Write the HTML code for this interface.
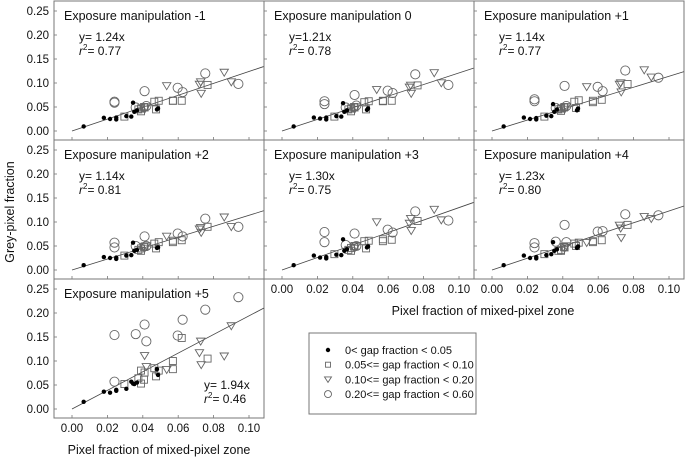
<!DOCTYPE html>
<html><head><meta charset="utf-8"><style>
html,body{margin:0;padding:0;background:#fff;}
svg{display:block;font-family:"Liberation Sans",Arial,sans-serif;}
</style></head><body>
<svg id="c" width="685" height="458" viewBox="0 0 685 458"></svg>
<script>
const xTicks=[0,0.02,0.04,0.06,0.08,0.10];
const xTickLabels=["0.00","0.02","0.04","0.06","0.08","0.10"];
const yTicks=[0,0.05,0.10,0.15,0.20,0.25];
const yTickLabels=["0.00","0.05","0.10","0.15","0.20","0.25"];
const panelTitles=["Exposure manipulation -1","Exposure manipulation 0","Exposure manipulation +1","Exposure manipulation +2","Exposure manipulation +3","Exposure manipulation +4","Exposure manipulation +5"];
const slopes=[1.24,1.21,1.14,1.14,1.30,1.23,1.94];
const slopeLabels=["y= 1.24x","y=1.21x","y= 1.14x","y= 1.14x","y= 1.30x","y= 1.23x","y= 1.94x"];
const r2Labels=["0.77","0.78","0.77","0.81","0.75","0.80","0.46"];
const dotX=[0.0066,0.018,0.0215,0.025,0.025,0.0307,0.0335,0.0345,0.0352,0.0367,0.048,0.0486];
const sqX=[0.0296,0.0375,0.039,0.039,0.0407,0.041,0.0465,0.0475,0.049,0.057,0.057,0.062,0.0766];
const triX=[0.041,0.042,0.0535,0.0727,0.072,0.073,0.086,0.090];
const circX=[0.024,0.024,0.036,0.041,0.042,0.0597,0.0625,0.0753,0.094];
const dotY=[
[0.0096,0.0275,0.025,0.028,0.024,0.031,0.030,0.059,0.040,0.043,0.045,0.047],
[0.0096,0.028,0.026,0.028,0.024,0.031,0.030,0.058,0.040,0.043,0.044,0.047],
[0.0096,0.028,0.025,0.027,0.024,0.032,0.031,0.056,0.040,0.045,0.043,0.047],
[0.010,0.027,0.025,0.026,0.023,0.030,0.031,0.057,0.040,0.042,0.046,0.047],
[0.010,0.030,0.026,0.027,0.024,0.032,0.031,0.064,0.040,0.043,0.047,0.049],
[0.010,0.030,0.025,0.027,0.024,0.031,0.033,0.058,0.040,0.043,0.046,0.049],
[0.015,0.036,0.034,0.040,0.038,0.042,0.057,0.053,0.052,0.055,0.083,0.071]];
const sqY=[
[0.030,0.045,0.041,0.047,0.050,0.049,0.061,0.045,0.063,0.063,0.063,0.063,0.096],
[0.030,0.045,0.041,0.047,0.050,0.049,0.060,0.045,0.062,0.063,0.062,0.063,0.095],
[0.030,0.045,0.042,0.047,0.049,0.050,0.061,0.048,0.064,0.060,0.063,0.065,0.098],
[0.030,0.042,0.040,0.045,0.048,0.049,0.055,0.045,0.058,0.058,0.061,0.062,0.090],
[0.033,0.042,0.040,0.046,0.049,0.050,0.060,0.045,0.061,0.060,0.064,0.063,0.102],
[0.033,0.040,0.040,0.042,0.048,0.047,0.055,0.050,0.057,0.058,0.060,0.062,0.094],
[0.052,0.064,0.080,0.053,0.061,0.076,0.085,0.068,0.080,0.100,0.083,0.148,0.105]];
const triY=[
[0.045,0.050,0.094,0.102,0.097,0.078,0.122,0.102],
[0.045,0.050,0.086,0.095,0.091,0.078,0.121,0.100],
[0.045,0.050,0.092,0.100,0.097,0.081,0.127,0.112],
[0.045,0.050,0.070,0.088,0.085,0.078,0.110,0.090],
[0.045,0.050,0.100,0.107,0.097,0.082,0.126,0.104],
[0.045,0.050,0.057,0.087,0.093,0.067,0.111,0.107],
[0.111,0.088,0.082,0.141,0.117,0.092,0.110,0.173]];
const circY=[
[0.059,0.061,0.049,0.083,0.052,0.090,0.081,0.120,0.098],
[0.056,0.062,0.049,0.075,0.053,0.084,0.079,0.118,0.096],
[0.062,0.066,0.048,0.094,0.052,0.092,0.083,0.126,0.111],
[0.057,0.047,0.050,0.070,0.050,0.076,0.070,0.107,0.090],
[0.079,0.058,0.052,0.076,0.050,0.084,0.078,0.122,0.103],
[0.056,0.047,0.059,0.094,0.058,0.080,0.081,0.116,0.114],
[0.154,0.057,0.156,0.176,0.141,0.153,0.186,0.207,0.233]];
const legendLabels=["0< gap fraction < 0.05","0.05<= gap fraction < 0.10","0.10<= gap fraction < 0.20","0.20<= gap fraction < 0.60"];

const NS="http://www.w3.org/2000/svg";
const svg=document.getElementById('c');
function mk(tag,attrs,parent){const e=document.createElementNS(NS,tag);for(const k in attrs)e.setAttribute(k,attrs[k]);(parent||svg).appendChild(e);return e;}
const PW=210,PH=139;
const panelPos=[[54,1],[264,1],[474,1],[54,140],[264,140],[474,140],[54,279]];
const GREY="#666";
function marker(g,type,cx,cy){
  let e;
  if(type===0){e=mk('circle',{cx:cx,cy:cy,r:2.2,fill:'#000'},g);}
  else if(type===1){e=mk('rect',{x:cx-3.5,y:cy-3.5,width:7,height:7,fill:'none',stroke:GREY,'stroke-width':0.9},g);}
  else if(type===2){e=mk('path',{d:`M${cx-4.2},${cy-3.2} L${cx+4.2},${cy-3.2} L${cx},${cy+3.8} Z`,fill:'none',stroke:GREY,'stroke-width':0.9},g);}
  else {e=mk('circle',{cx:cx,cy:cy,r:4.6,fill:'none',stroke:GREY,'stroke-width':0.9},g);}
  return e;
}
panelPos.forEach((p,i)=>{
  const L=p[0],T=p[1];
  const g=mk('g',{});
  
  
  const sx=v=>L+18+v*1770;
  const sy=v=>T+130-v*480;
  const fr=mk('rect',{x:L,y:T,width:PW,height:PH,fill:'none',stroke:'#777','stroke-width':1},g);
  
  
  yTicks.forEach((t,j)=>{
    mk('line',{x1:L,x2:L+3,y1:sy(t),y2:sy(t),stroke:'#777','stroke-width':0.8},g);
    if(L===54){const tx=mk('text',{x:L-5,y:sy(t)+4,'text-anchor':'end','font-size':11.5,fill:'#111'},g);tx.textContent=yTickLabels[j];
      }
  });
  xTicks.forEach((t,j)=>{
    mk('line',{x1:sx(t),x2:sx(t),y1:T+PH,y2:T+PH-3,stroke:'#777','stroke-width':0.8},g);
    if(i>=4){const tx=mk('text',{x:sx(t),y:T+PH+14,'text-anchor':'middle','font-size':11.5,fill:'#111'},g);tx.textContent=xTickLabels[j];
      }
  });
  const xEnd=(PW-18)/1770;
  const ln=mk('line',{x1:sx(0),y1:sy(0),x2:L+PW,y2:sy(slopes[i]*xEnd),stroke:'#444','stroke-width':0.8},g);
  
  
  const ti=mk('text',{x:L+10,y:T+19,'font-size':12.5,fill:'#111'},g);
  ti.textContent=panelTitles[i];
  
  
  const ex=i===6?L+150:L+25, ey=i===6?T+110:T+40;
  const eq=mk('text',{x:ex,y:ey,'font-size':12,fill:'#111'},g);
  eq.textContent=slopeLabels[i];
  
  
  const r2=mk('text',{x:ex,y:ey+14,'font-size':12,fill:'#111'},g);
  r2.innerHTML='<tspan font-style="italic">r</tspan><tspan dy="-5" font-size="8">2</tspan><tspan dy="5">= '+r2Labels[i]+'</tspan>';
  
  
  [[circX,circY,3],[triX,triY,2],[sqX,sqY,1],[dotX,dotY,0]].forEach(([xs,ys,t])=>{
    xs.forEach((xv,k)=>{
      const m=marker(g,t,sx(xv),sy(ys[i][k]));
      
      
    });
  });
});
// axis titles
let t=mk('text',{x:0,y:0,'font-size':12.5,fill:'#111','text-anchor':'middle',transform:'translate(14,212) rotate(-90)'});
t.textContent='Grey-pixel fraction';

t=mk('text',{x:483,y:315,'font-size':12.5,fill:'#111','text-anchor':'middle'});
t.textContent='Pixel fraction of mixed-pixel zone';

t=mk('text',{x:159,y:454,'font-size':12.5,fill:'#111','text-anchor':'middle'});
t.textContent='Pixel fraction of mixed-pixel zone';

// legend
const lg=mk('g',{});

mk('rect',{x:309,y:333,width:167,height:81,fill:'none',stroke:'#777','stroke-width':1},lg);
legendLabels.forEach((lab,k)=>{
  const yy=350+k*14.7;
  const m=marker(lg,k,328,yy);
  if(k===1){m.setAttribute('x',325.5);m.setAttribute('y',yy-2.5);m.setAttribute('width',5);m.setAttribute('height',5);}
  if(k===2){m.setAttribute('d',`M${324.5},${yy-2.5} L${331.5},${yy-2.5} L${328},${yy+3} Z`);}
  if(k===3){m.setAttribute('r',3.5);}
  
  const tx=mk('text',{x:345,y:yy+4,'font-size':11,fill:'#111'},lg);
  tx.textContent=lab;
  
});
</script>
</body></html>
